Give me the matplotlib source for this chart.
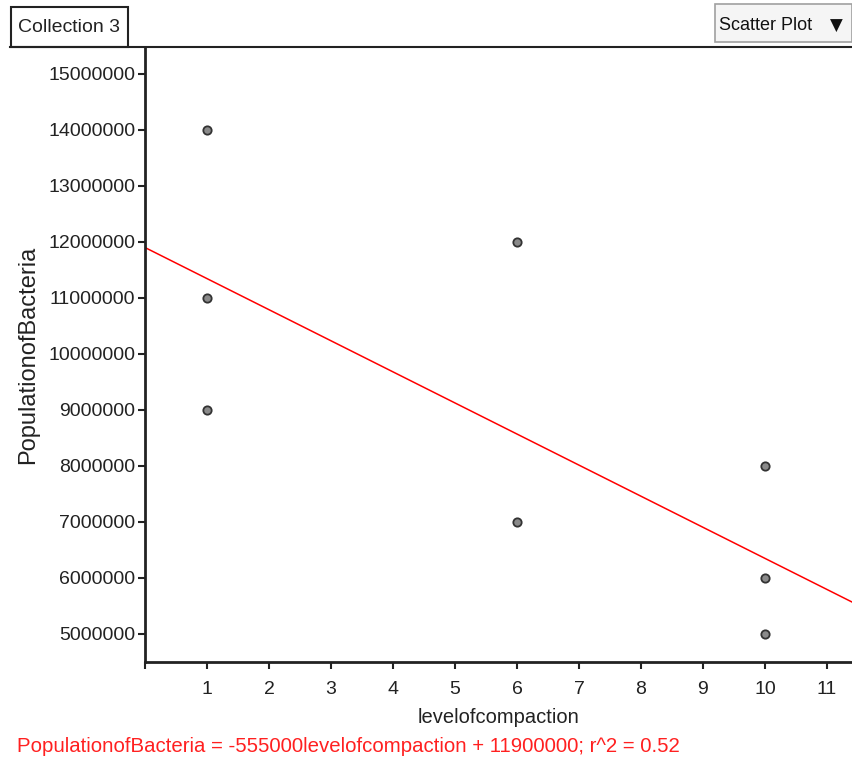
import matplotlib
matplotlib.use("Agg")
import matplotlib.pyplot as plt
from matplotlib.patches import Rectangle
from matplotlib.lines import Line2D
import numpy as np

plt.rcParams['font.family'] = ['Liberation Sans', 'DejaVu Sans']

level = [1, 1, 1, 6, 6, 10, 10, 10]
population = [14000000, 11000000, 9000000, 12000000, 7000000, 8000000, 6000000, 5000000]
slope = -555000
intercept = 11900000
r2 = 0.52
xticks = list(range(0, 12))
yticks = list(range(5000000, 15000001, 1000000))

W, H = 853, 760
fig = plt.figure(figsize=(W/100, H/100), dpi=100)
ax = fig.add_axes([145/W, 1-662/H, (W-145)/W, (662-47)/H])

ax.set_xlim(0, 11.42)
ax.set_ylim(4500000, 15480000)

xs = np.array(ax.get_xlim())
ax.plot(xs, slope*xs + intercept, color='#ff0000', lw=1.1, zorder=2)
ax.scatter(level, population, s=36, facecolor='#8a8a8a', edgecolor='#333333', linewidth=1.3, zorder=3)

ax.set_xticks(xticks)
ax.set_xticklabels([''] + [str(t) for t in xticks[1:]])
ax.set_yticks(yticks)
ax.set_yticklabels([str(t) for t in yticks])
ax.tick_params(axis='both', labelsize=14, colors='#222222', width=1.5, length=5)
ax.tick_params(axis='x', pad=9)
ax.tick_params(axis='y', pad=2)
for s in ['top', 'right']:
    ax.spines[s].set_visible(False)
for s in ['left', 'bottom']:
    ax.spines[s].set_linewidth(2)
    ax.spines[s].set_color('#222222')

ax.set_xlabel('levelofcompaction', fontsize=14.5, color='#222222', labelpad=7)
fig.text(28/W, 1-355/H, 'PopulationofBacteria', rotation=90, fontsize=17,
         color='#222222', ha='center', va='center')

fig.text(17/W, 1-746/H, f'PopulationofBacteria = {slope}levelofcompaction + {intercept}; r^2 = {r2}',
         fontsize=14.7, color='#ff2020', ha='left', va='center')

# top line and collection box
fig.add_artist(Line2D([10/W, 1], [1-47/H, 1-47/H], color='#222222', lw=1.5, transform=fig.transFigure))
fig.add_artist(Rectangle((11/W, 1-47/H), (128-11)/W, 40/H, transform=fig.transFigure,
                         facecolor='white', edgecolor='#222222', lw=1.5))
fig.text(18/W, 1-28/H, 'Collection 3', fontsize=14, color='#222222', ha='left', va='center')

# Scatter plot dropdown
fig.add_artist(Rectangle((715/W, 1-42/H), (W-716)/W, 38/H, transform=fig.transFigure,
                         facecolor='#f5f5f5', edgecolor='#a0a0a0', lw=1.2))
fig.text(719/W, 1-26/H, 'Scatter Plot', fontsize=13, color='#111111', ha='left', va='center')
fig.text(836/W, 1-26/H, '▼', fontsize=12, color='#111111', ha='center', va='center',
         family=['DejaVu Sans'])

fig.savefig('out.png', dpi=100)
